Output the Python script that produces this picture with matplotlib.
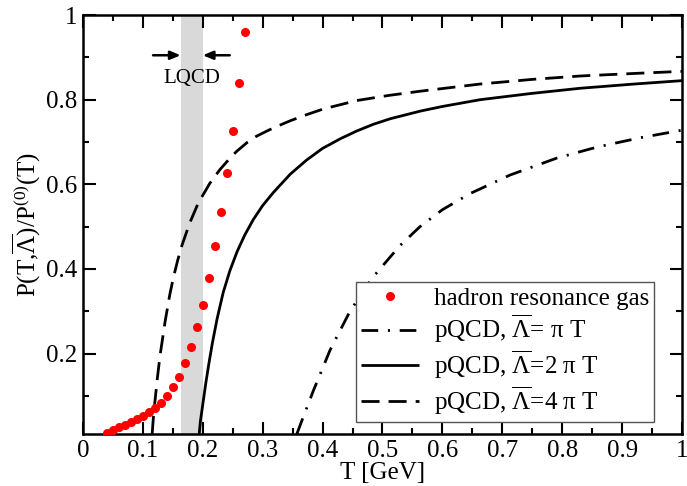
import numpy as np
import matplotlib
matplotlib.use('Agg')
import matplotlib.pyplot as plt
import matplotlib.ticker as ticker

plt.rcParams['font.family'] = ['Liberation Serif', 'DejaVu Serif']
plt.rcParams['mathtext.fontset'] = 'custom'
plt.rcParams['mathtext.rm'] = 'Liberation Serif'
plt.rcParams['mathtext.it'] = 'Liberation Serif:italic'
plt.rcParams['mathtext.bf'] = 'Liberation Serif:bold'

fs = 18  # fontsize

# hadron resonance gas points
hrg_T = [0.04, 0.05, 0.06, 0.07, 0.08, 0.09, 0.10, 0.11, 0.12, 0.13, 0.14, 0.15,
         0.16, 0.17, 0.18, 0.19, 0.20, 0.21, 0.22, 0.23, 0.24, 0.25, 0.26, 0.27]
hrg_P = [0.013, 0.020, 0.026, 0.032, 0.038, 0.045, 0.052, 0.061, 0.071, 0.083, 0.099, 0.120,
         0.145, 0.177, 0.215, 0.262, 0.316, 0.379, 0.454, 0.534, 0.626, 0.726, 0.839, 0.960]

# pQCD, Lambda = pi T (dash-dot)
pq1_T = [0.357, 0.365, 0.3845, 0.4124, 0.4457, 0.4837, 0.529, 0.5626, 0.600, 0.646,
         0.713, 0.791, 0.858, 0.930, 1.0]
pq1_P = [0.010, 0.040, 0.112, 0.208, 0.300, 0.380, 0.455, 0.500, 0.540, 0.578,
         0.622, 0.662, 0.688, 0.710, 0.728]

# pQCD, Lambda = 2 pi T (solid)
pq2_T = [0.194, 0.196, 0.200, 0.205, 0.210, 0.216, 0.224, 0.234, 0.245, 0.257, 0.270,
         0.284, 0.300, 0.318, 0.346, 0.373, 0.400, 0.430, 0.457, 0.485, 0.513, 0.563,
         0.600, 0.663, 0.750, 0.830, 0.920, 1.0]
pq2_P = [0.010, 0.040, 0.080, 0.130, 0.175, 0.225, 0.283, 0.344, 0.395, 0.440, 0.480,
         0.516, 0.550, 0.581, 0.624, 0.657, 0.685, 0.708, 0.726, 0.742, 0.755, 0.773,
         0.784, 0.800, 0.815, 0.827, 0.837, 0.845]

# pQCD, Lambda = 4 pi T (dashed)
pq4_T = [0.1155, 0.117, 0.120, 0.124, 0.1285, 0.137, 0.145, 0.151, 0.158, 0.165, 0.1786,
         0.1925, 0.212, 0.2287, 0.2454, 0.2566, 0.275, 0.290, 0.310, 0.329, 0.3456, 0.372,
         0.401, 0.457, 0.510, 0.5626, 0.663, 0.750, 0.830, 0.920, 1.0]
pq4_P = [0.010, 0.040, 0.085, 0.140, 0.194, 0.275, 0.340, 0.380, 0.420, 0.455, 0.510,
         0.556, 0.603, 0.635, 0.662, 0.678, 0.700, 0.714, 0.728, 0.740, 0.750, 0.764,
         0.778, 0.798, 0.810, 0.820, 0.837, 0.848, 0.856, 0.862, 0.867]

lqcd_band = (0.163, 0.2)

fig = plt.figure(figsize=(6.87, 4.86), dpi=100)
ax = fig.add_axes([0.1208, 0.107, 0.8719, 0.862])

ax.axvspan(lqcd_band[0], lqcd_band[1], color='#d9d9d9', lw=0, zorder=0)

lw = 2.0
ax.plot(hrg_T, hrg_P, 'o', color='#ff0000', ms=6.5, mec='none', zorder=5,
        label='hadron resonance gas')
ax.plot(pq1_T, pq1_P, color='k', lw=lw, dashes=(6, 3.5, 0.75, 3.5),
        label=r'pQCD, $\overline{\Lambda}$= π T')
ax.plot(pq2_T, pq2_P, color='k', lw=lw, solid_capstyle='butt', solid_joinstyle='round',
        label=r'pQCD, $\overline{\Lambda}$=2 π T')
ax.plot(pq4_T, pq4_P, color='k', lw=lw, dashes=(6.5, 3.25),
        label=r'pQCD, $\overline{\Lambda}$=4 π T')

# LQCD arrows
arr = dict(arrowstyle='-|>,head_length=0.6,head_width=0.25', color='k', lw=1.8,
           shrinkA=0, shrinkB=0)
ax.annotate('', xy=(lqcd_band[0], 0.905), xytext=(0.117, 0.905), arrowprops=arr)
ax.annotate('', xy=(lqcd_band[1], 0.905), xytext=(0.245, 0.905), arrowprops=arr)
ax.text(0.182, 0.85, 'LQCD', ha='center', va='center', fontsize=15)

ax.set_xlim(0, 1)
ax.set_ylim(0.01, 1)
ax.xaxis.set_major_locator(ticker.MultipleLocator(0.1))
ax.xaxis.set_minor_locator(ticker.MultipleLocator(0.05))
ax.yaxis.set_major_locator(ticker.MultipleLocator(0.2))
ax.yaxis.set_minor_locator(ticker.MultipleLocator(0.1))
fmt = ticker.FuncFormatter(lambda v, p: '%g' % round(v, 3))
ax.xaxis.set_major_formatter(fmt)
ax.yaxis.set_major_formatter(fmt)
ax.tick_params(which='both', direction='in', top=True, right=True, width=1.5)
ax.tick_params(which='major', length=9, labelsize=fs, pad=4)
ax.tick_params(which='minor', length=4.5)
for s in ax.spines.values():
    s.set_linewidth(1.8)

ax.set_xlabel('T [GeV]', fontsize=fs, labelpad=0)
ax.set_ylabel(r'P(T,$\overline{\Lambda}$)/P$^{(0)}$(T)', fontsize=fs, labelpad=2)

leg = ax.legend(loc='lower right', bbox_to_anchor=(0.953, 0.029), fontsize=fs,
                fancybox=False, framealpha=1, edgecolor='#555555', handlelength=2.3,
                numpoints=1, labelspacing=0.14, borderaxespad=0, handletextpad=0.6,
                borderpad=0.2)
leg.get_frame().set_linewidth(1.0)

fig.savefig('out.png', dpi=100)
